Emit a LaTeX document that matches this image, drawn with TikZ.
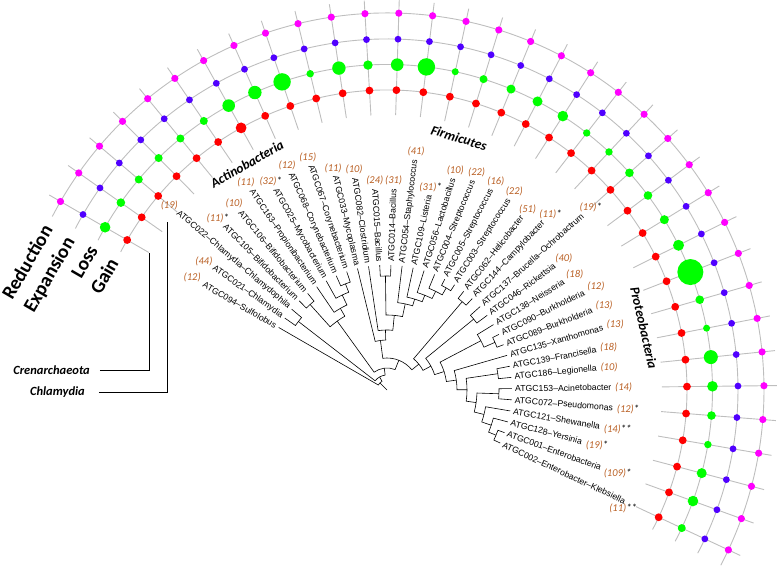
\documentclass[tikz,border=0pt]{standalone}
\usepackage{fontspec}
\setmainfont{Liberation Sans}
\newfontfamily\calfont{Carlito}
\usetikzlibrary{calc}
\definecolor{dred}{RGB}{255,0,0}
\definecolor{dgreen}{RGB}{0,255,0}
\definecolor{dblue}{RGB}{80,0,255}
\definecolor{dmag}{RGB}{255,0,255}
\definecolor{ringc}{RGB}{190,190,190}
\definecolor{cntc}{RGB}{185,95,35}
\newcommand\setleaf[2]{\expandafter\xdef\csname taX#1\endcsname{#2}\expandafter\xdef\csname trX#1\endcsname{125}}
\newcommand\clade[4]{%
  \edef\cA{\csname taX#3\endcsname}\edef\cB{\csname taX#4\endcsname}%
  \edef\rA{\csname trX#3\endcsname}\edef\rB{\csname trX#4\endcsname}%
  \draw[tree] (\cA:\rA) -- (\cA:#2) arc[start angle=\cA, end angle=\cB, radius=#2] -- (\cB:\rB);%
  \pgfmathsetmacro\cM{(\cA+\cB)/2}%
  \expandafter\xdef\csname taX#1\endcsname{\cM}%
  \expandafter\xdef\csname trX#1\endcsname{#2}%
}
\newcommand\taxR[4]{%
  \pgfmathsetmacro\lang{150-5.15*#1}%
  \pgfmathsetmacro\lopp{\lang+180}%
  \node[lab, rotate=\lang, anchor=west] (t#1) at (\lang:128) {#2};%
  \node[cnt, anchor=\lopp] (c#1) at ($(t#1.east)+(\lang:3.5)$) {(#3)\textcolor{black}{#4}};%
  \setleaf{L#1}{\lang}%
}
\newcommand\taxL[4]{%
  \pgfmathsetmacro\lang{150-5.15*#1}%
  \pgfmathsetmacro\lrot{\lang-180}%
  \pgfmathsetmacro\lopp{\lang+180}%
  \node[lab, rotate=\lrot, anchor=east] (t#1) at (\lang:128) {#2};%
  \node[cnt, anchor=\lopp] (c#1) at ($(t#1.west)+(\lang:3.5)$) {(#3)\textcolor{black}{#4}};%
  \setleaf{L#1}{\lang}%
}
\begin{document}
\begin{tikzpicture}[x=1pt,y=1pt,
  ring/.style={draw=ringc, line width=0.9pt},
  tree/.style={draw=black, line width=0.6pt},
  lab/.style={font=\fontsize{8.7}{9}\selectfont, inner sep=0pt},
  cnt/.style={font=\calfont\itshape\fontsize{10.5}{11}\selectfont, text=cntc, inner sep=0pt},
  grp/.style={font=\calfont\bfseries\itshape\fontsize{13.5}{14}\selectfont, inner sep=0pt},
  evt/.style={font=\calfont\bfseries\fontsize{19.5}{20}\selectfont, rotate=60, inner sep=0pt},
  side/.style={font=\calfont\bfseries\itshape\fontsize{12.5}{13}\selectfont, anchor=east, inner sep=0pt}
]
\useasboundingbox (-387,-175) rectangle (391,390);
% rings and spokes
\foreach \r in {300,325.5,351,377}{
  \draw[ring] (152.6:\r) arc[start angle=152.6, end angle=-27.7, radius=\r];
}
\foreach \k in {0,...,34}{
  \pgfmathsetmacro\a{150-5.15*\k}
  \draw[ring] (\a:275) -- (\a:390);
}
% dots
\foreach \k/\g in {0/5.3,1/4.3,2/4,3/4,4/4,5/4,6/6.3,7/6.7,8/8.7,9/3.7,10/6.7,11/4.7,12/6.3,13/8.7,14/3.5,15/4,16/4.5,17/5,18/5.3,19/3.7,20/3.7,21/4.3,22/4.3,23/4.5,24/5.5,25/13,26/4.3,27/3.5,28/7,29/5.3,30/4.3,31/3.7,32/5,33/5.3,34/4}{
  \pgfmathsetmacro\a{150-5.15*\k}
  \fill[dred] (\a:300) circle[radius=3.9];
  \fill[dgreen] (\a:325.5) circle[radius=\g];
  \fill[dblue] (\a:351) circle[radius=3.4];
  \fill[dmag] (\a:377) circle[radius=3.6];
}
\fill[dred] ({150-5.15*6}:300) circle[radius=5.4];
% leaf labels
\taxL{0}{ATGC094–Sulfolobus}{12}{}
\taxL{1}{ATGC021–Chlamydia}{44}{}
\taxL{2}{ATGC022–Chlamydia–Chlamydophila}{19}{}
\taxL{3}{ATGC105–Bifidobacterium}{11}{*}
\taxL{4}{ATGC106–Bifidobacterium}{10}{}
\taxL{5}{ATGC163–Propionibacterium}{11}{}
\taxL{6}{ATGC025–Mycobacterium}{32}{*}
\taxL{7}{ATGC068–Corynebacterium}{12}{}
\taxL{8}{ATGC067–Corynebacterium}{15}{}
\taxL{9}{ATGC033–Mycoplasma}{11}{}
\taxL{10}{ATGC082–Clostridium}{10}{}
\taxL{11}{ATGC015–Bacillus}{24}{}
\taxR{12}{ATGC014–Bacillus}{31}{}
\taxR{13}{ATGC054–Staphylococcus}{41}{}
\taxR{14}{ATGC109–Listeria}{31}{*}
\taxR{15}{ATGC056–Lactobacillus}{10}{}
\taxR{16}{ATGC004–Streptococcus}{22}{}
\taxR{17}{ATGC005–Streptococcus}{16}{}
\taxR{18}{ATGC003–Streptococcus}{22}{}
\taxR{19}{ATGC062–Helicobacter}{51}{}
\taxR{20}{ATGC144–Campylobacter}{11}{*}
\taxR{21}{ATGC137–Brucella–Ochrobactrum}{19}{*}
\taxR{22}{ATGC046–Rickettsia}{40}{}
\taxR{23}{ATGC138–Neisseria}{18}{}
\taxR{24}{ATGC090–Burkholderia}{12}{}
\taxR{25}{ATGC089–Burkholderia}{13}{}
\taxR{26}{ATGC135–Xanthomonas}{13}{}
\taxR{27}{ATGC139–Francisella}{18}{}
\taxR{28}{ATGC186–Legionella}{10}{}
\taxR{29}{ATGC153–Acinetobacter}{14}{}
\taxR{30}{ATGC072–Pseudomonas}{12}{*}
\taxR{31}{ATGC121–Shewanella}{14}{**}
\taxR{32}{ATGC128–Yersinia}{19}{*}
\taxR{33}{ATGC001–Enterobacteria}{109}{*}
\node[lab, rotate={150-5.15*34}, anchor=west] (t34) at ({150-5.15*34}:128) {ATGC002–Enterobacter–Klebsiella};
\node[cnt] (c34) at (236,-118.5) {(11)\textcolor{black}{**}};
\setleaf{L34}{-25.1}
% tree
\clade{chl}{112}{L1}{L2}
\clade{bif}{115}{L3}{L4}
\clade{cor}{114}{L7}{L8}
\clade{myc}{105}{L6}{cor}
\clade{pro}{94}{L5}{myc}
\clade{act}{85}{bif}{pro}
\clade{st2}{118}{L17}{L18}
\clade{st1}{110}{L16}{st2}
\clade{lac}{102}{L15}{st1}
\clade{lis}{95}{L14}{lac}
\clade{sta}{88}{L13}{lis}
\clade{bac}{114}{L11}{L12}
\clade{bs}{75}{bac}{sta}
\clade{clo}{60}{L10}{bs}
\clade{fir}{50}{L9}{clo}
\clade{eps}{116}{L19}{L20}
\clade{alp}{112}{L21}{L22}
\clade{bur}{118}{L24}{L25}
\clade{bet}{106}{L23}{bur}
\clade{fl}{112}{L27}{L28}
\clade{ap}{112}{L29}{L30}
\clade{ent}{118}{L33}{L34}
\clade{ye}{110}{L32}{ent}
\clade{sh}{100}{L31}{ye}
\clade{gthree}{90}{ap}{sh}
\clade{gtwo}{80}{fl}{gthree}
\clade{gone}{70}{L26}{gtwo}
\clade{bg}{60}{bet}{gone}
\clade{abg}{50}{alp}{bg}
\clade{prt}{41}{eps}{abg}
\clade{fp}{32}{fir}{prt}
\clade{main}{22}{act}{fp}
\clade{bact}{15}{chl}{main}
\clade{root}{10}{L0}{bact}
\coordinate (ctr) at (0,0);
\draw[tree] (\csname taXroot\endcsname:10) -- (ctr);
% group labels
\node[grp, rotate=30] (actino) at (-140,226) {Actinobacteria};
\node[grp, rotate=-17] (firm) at (72,252) {Firmicutes};
\node[grp, rotate=-77] (proteo) at (257,62) {Proteobacteria};
% event labels
\node[evt] (reduc) at (-360,128) {Reduction};
\node[evt] (expan) at (-337,115) {Expansion};
\node[evt] (loss) at (-302.5,128) {Loss};
\node[evt] (gain) at (-283,114) {Gain};
% side brackets
\coordinate (crenT) at (150:275);
\coordinate (chlT) at (-220,168);
\node[side] (cren) at (-297,20) {Crenarchaeota};
\node[side] (chlam) at (-302,-2) {Chlamydia};
\draw[tree] ($(cren.east)+(10,0)$) -| (crenT);
\draw[tree] ($(chlam.east)+(14,0)$) -| (chlT);
\end{tikzpicture}
\end{document}
